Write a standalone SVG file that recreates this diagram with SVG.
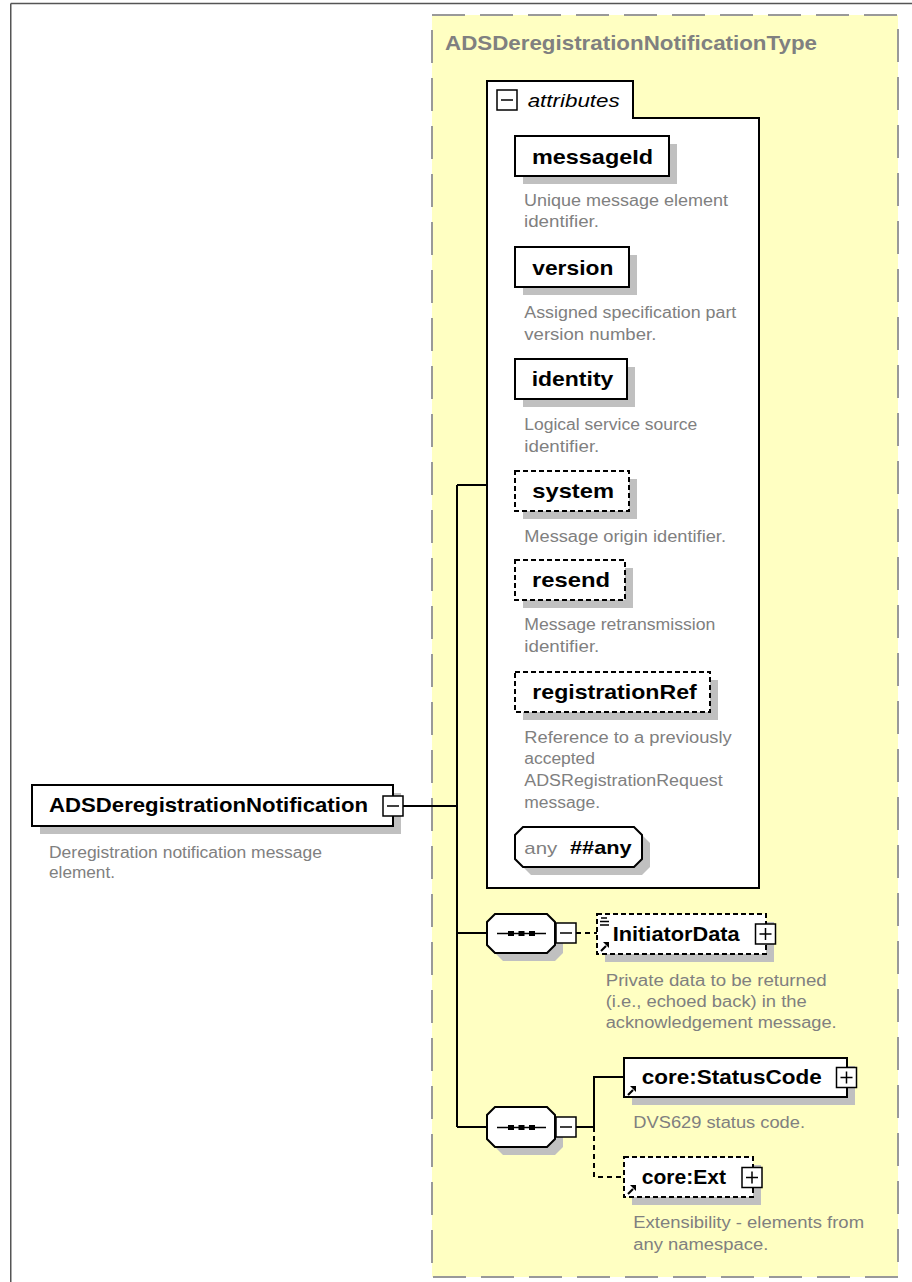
<svg xmlns="http://www.w3.org/2000/svg" width="912" height="1282" viewBox="0 0 912 1282">
<style>
.box{fill:#fff;stroke:#000;stroke-width:2}
.dbox{fill:#fff;stroke:#000;stroke-width:2;stroke-dasharray:5 3}
.shadow{fill:#c0c0c0}
.name{font-family:"Liberation Sans",Arial,sans-serif;font-weight:bold;font-size:21px;fill:#000}
.desc{font-family:"Liberation Sans",Arial,sans-serif;font-size:16px;fill:#808080}
.conn{stroke:#000;stroke-width:2;fill:none}
.dash{stroke-dasharray:5 4}
.btn{fill:#fff;stroke:#000;stroke-width:1.5}
.sign{stroke:#000;stroke-width:1.5;fill:none}
</style>
<defs>
<g id="refIcon">
<path d="M1,9 L6,4" stroke="#000" stroke-width="2.2" fill="none"/>
<polygon points="3,0 9,0 9,6" fill="#000"/>
</g>
<g id="minusBtn">
<rect class="btn" x="0" y="0" width="20" height="20"/>
<path class="sign" d="M4,10 H16"/>
</g>
<g id="plusBtn">
<rect class="btn" x="0" y="0" width="20" height="20"/>
<path class="sign" d="M4,10 H16 M10,4 V16"/>
</g>
<g id="seqDots">
<path d="M0,0 H49" stroke="#000" stroke-width="1.5"/>
<rect x="11" y="-2.5" width="6" height="5" fill="#000"/>
<rect x="21.5" y="-2.5" width="6" height="5" fill="#000"/>
<rect x="32" y="-2.5" width="6" height="5" fill="#000"/>
</g>
</defs>

<!-- outer frame -->
<g id="frame">
<path d="M10.75,3.5 H912 M10.75,3.5 V1282" stroke="#555" stroke-width="1.5" fill="none"/>
</g>

<!-- complex type container -->
<g id="type-ADSDeregistrationNotificationType">
<rect x="432" y="15" width="466" height="1262" fill="#ffffc2" stroke="#999" stroke-width="2" stroke-dasharray="33 15"/>
<text x="445" y="49.5" font-family="Liberation Sans,Arial,sans-serif" font-weight="bold" font-size="21" fill="#808080" textLength="372" lengthAdjust="spacingAndGlyphs">ADSDeregistrationNotificationType</text>
</g>

<!-- connectors -->
<g id="connectors">
<path class="conn" d="M403,806 H457"/>
<path class="conn" d="M457,485 V1127"/>
<path class="conn" d="M457,485 H487"/>
<path class="conn" d="M457,933 H487"/>
<path class="conn" d="M457,1127 H487"/>
<path class="conn dash" d="M576,933 H597"/>
<path class="conn" d="M576,1127 H594 M594,1127 V1077 H624"/>
<path class="conn dash" d="M594,1127 V1177 H624"/>
</g>

<!-- root element -->
<g id="el-ADSDeregistrationNotification">
<rect class="shadow" x="40" y="793" width="361" height="41"/>
<rect class="box" x="32" y="785" width="361" height="41"/>
<text class="name" x="49" y="812" textLength="319" lengthAdjust="spacingAndGlyphs">ADSDeregistrationNotification</text>
<use href="#minusBtn" x="383" y="796"/>
<text class="desc" x="49" y="858" textLength="273" lengthAdjust="spacingAndGlyphs">Deregistration notification message</text>
<text class="desc" x="49" y="877.5" textLength="66" lengthAdjust="spacingAndGlyphs">element.</text>
</g>

<!-- attributes container -->
<g id="attributes">
<path d="M487,81 H633 V118 H759 V888 H487 Z" fill="#fff" stroke="#000" stroke-width="2"/>
<use href="#minusBtn" x="497" y="90"/>
<text x="527.7" y="106.5" font-family="Liberation Sans,Arial,sans-serif" font-style="italic" font-size="18" fill="#000" textLength="92" lengthAdjust="spacingAndGlyphs">attributes</text>
</g>

<g id="attr-messageId">
<rect class="shadow" x="523" y="144" width="154" height="40"/>
<rect class="box" x="515" y="136" width="154" height="40"/>
<text class="name" x="532" y="163.5" textLength="121" lengthAdjust="spacingAndGlyphs">messageId</text>
<text class="desc" x="524" y="206" textLength="204" lengthAdjust="spacingAndGlyphs">Unique message element</text>
<text class="desc" x="524" y="227.3" textLength="75" lengthAdjust="spacingAndGlyphs">identifier.</text>
</g>

<g id="attr-version">
<rect class="shadow" x="523" y="255" width="114" height="40"/>
<rect class="box" x="515" y="247" width="114" height="40"/>
<text class="name" x="532.3" y="274.5" textLength="81" lengthAdjust="spacingAndGlyphs">version</text>
<text class="desc" x="524.3" y="318.3" textLength="212" lengthAdjust="spacingAndGlyphs">Assigned specification part</text>
<text class="desc" x="524.3" y="340" textLength="132" lengthAdjust="spacingAndGlyphs">version number.</text>
</g>

<g id="attr-identity">
<rect class="shadow" x="523" y="367" width="112" height="40"/>
<rect class="box" x="515" y="359" width="112" height="40"/>
<text class="name" x="531.7" y="386" textLength="81.6" lengthAdjust="spacingAndGlyphs">identity</text>
<text class="desc" x="524.3" y="430" textLength="173" lengthAdjust="spacingAndGlyphs">Logical service source</text>
<text class="desc" x="524.3" y="451.7" textLength="75" lengthAdjust="spacingAndGlyphs">identifier.</text>
</g>

<g id="attr-system">
<rect class="shadow" x="523" y="479" width="114" height="40"/>
<rect class="dbox" x="515" y="471" width="114" height="40"/>
<text class="name" x="532.3" y="497.5" textLength="81.7" lengthAdjust="spacingAndGlyphs">system</text>
<text class="desc" x="524.3" y="541.7" textLength="201.7" lengthAdjust="spacingAndGlyphs">Message origin identifier.</text>
</g>

<g id="attr-resend">
<rect class="shadow" x="523" y="568" width="110" height="40"/>
<rect class="dbox" x="515" y="560" width="110" height="40"/>
<text class="name" x="532" y="587" textLength="78" lengthAdjust="spacingAndGlyphs">resend</text>
<text class="desc" x="524.3" y="630" textLength="191" lengthAdjust="spacingAndGlyphs">Message retransmission</text>
<text class="desc" x="524.3" y="651.7" textLength="75" lengthAdjust="spacingAndGlyphs">identifier.</text>
</g>

<g id="attr-registrationRef">
<rect class="shadow" x="523" y="680" width="195" height="40"/>
<rect class="dbox" x="515" y="672" width="195" height="40"/>
<text class="name" x="532.3" y="698.5" textLength="164.4" lengthAdjust="spacingAndGlyphs">registrationRef</text>
<text class="desc" x="524.3" y="742.7" textLength="207.4" lengthAdjust="spacingAndGlyphs">Reference to a previously</text>
<text class="desc" x="524.3" y="764.3" textLength="70.7" lengthAdjust="spacingAndGlyphs">accepted</text>
<text class="desc" x="524.3" y="786" textLength="198.4" lengthAdjust="spacingAndGlyphs">ADSRegistrationRequest</text>
<text class="desc" x="524.3" y="807.7" textLength="75.7" lengthAdjust="spacingAndGlyphs">message.</text>
</g>

<g id="attr-any">
<polygon class="shadow" points="531,835 642,835 650,843 650,867 642,875 531,875 523,867 523,843"/>
<polygon points="523,827 634,827 642,835 642,859 634,867 523,867 515,859 515,835" fill="#fff" stroke="#000" stroke-width="2"/>
<text x="524.3" y="854" font-family="Liberation Sans,Arial,sans-serif" font-size="17" fill="#808080" textLength="33" lengthAdjust="spacingAndGlyphs">any</text>
<text x="570" y="854" font-family="Liberation Sans,Arial,sans-serif" font-weight="bold" font-size="19" fill="#000" textLength="61.7" lengthAdjust="spacingAndGlyphs">##any</text>
</g>

<!-- sequence 1 -->
<g id="seq-1">
<polygon class="shadow" points="503,922 555,922 563,930 563,953 555,961 503,961 495,953 495,930"/>
<polygon points="495,914 547,914 555,922 555,945 547,953 495,953 487,945 487,922" fill="#fff" stroke="#000" stroke-width="2"/>
<use href="#seqDots" x="497" y="933.5"/>
<use href="#minusBtn" x="556" y="923"/>
</g>

<g id="el-InitiatorData">
<rect class="shadow" x="605" y="922" width="169" height="40"/>
<rect class="dbox" x="597" y="914" width="169" height="40"/>
<path d="M601,918 H607 M600,921.5 H609 M600,925 H609" stroke="#000" stroke-width="1.3" fill="none"/>
<use href="#refIcon" x="600" y="942"/>
<text class="name" x="612.7" y="941" textLength="127" lengthAdjust="spacingAndGlyphs">InitiatorData</text>
<use href="#plusBtn" x="755.5" y="924"/>
<text class="desc" x="605.7" y="986" textLength="221" lengthAdjust="spacingAndGlyphs">Private data to be returned</text>
<text class="desc" x="605.7" y="1007.3" textLength="201" lengthAdjust="spacingAndGlyphs">(i.e., echoed back) in the</text>
<text class="desc" x="605.7" y="1028.3" textLength="231" lengthAdjust="spacingAndGlyphs">acknowledgement message.</text>
</g>

<!-- sequence 2 -->
<g id="seq-2">
<polygon class="shadow" points="503,1115 555,1115 563,1123 563,1147 555,1155 503,1155 495,1147 495,1123"/>
<polygon points="495,1107 547,1107 555,1115 555,1139 547,1147 495,1147 487,1139 487,1115" fill="#fff" stroke="#000" stroke-width="2"/>
<use href="#seqDots" x="497" y="1127.5"/>
<use href="#minusBtn" x="556" y="1117"/>
</g>

<g id="el-core-StatusCode">
<rect class="shadow" x="632" y="1066" width="223" height="39"/>
<rect class="box" x="624" y="1058" width="223" height="39"/>
<use href="#refIcon" x="627" y="1086"/>
<text class="name" x="641.7" y="1084" textLength="180" lengthAdjust="spacingAndGlyphs">core:StatusCode</text>
<use href="#plusBtn" x="836.5" y="1067.5"/>
<text class="desc" x="633.3" y="1128.3" textLength="171.7" lengthAdjust="spacingAndGlyphs">DVS629 status code.</text>
</g>

<g id="el-core-Ext">
<rect class="shadow" x="632" y="1165" width="129" height="40"/>
<rect class="dbox" x="624" y="1157" width="129" height="40"/>
<use href="#refIcon" x="627" y="1185"/>
<text class="name" x="641.7" y="1184" textLength="84.3" lengthAdjust="spacingAndGlyphs">core:Ext</text>
<use href="#plusBtn" x="742" y="1167.5"/>
<text class="desc" x="633.3" y="1228.3" textLength="230.7" lengthAdjust="spacingAndGlyphs">Extensibility - elements from</text>
<text class="desc" x="633.3" y="1250" textLength="135" lengthAdjust="spacingAndGlyphs">any namespace.</text>
</g>
</svg>
